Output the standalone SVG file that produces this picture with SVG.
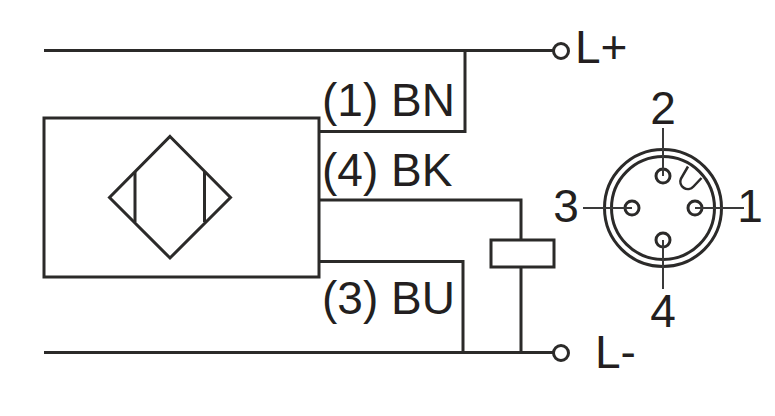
<svg xmlns="http://www.w3.org/2000/svg" width="775" height="416" viewBox="0 0 775 416">
<style>
.l{fill:none;stroke:#2b2a29;stroke-width:3}
.t{fill:none;stroke:#2b2a29;stroke-width:2.500}
.p{fill:none;stroke:#3a3a3a;stroke-width:2}
text{font-family:"Liberation Sans",Arial,sans-serif;font-size:46px;fill:#231f20}
.m{text-anchor:middle}
</style>
<rect width="775" height="416" fill="#fff"/>
<g id="connectors">
<path class="l" d="M44 50.500H553M465 50.500V131.500H319M319 200H521V240M521 267V352.500M319 261.500H463V352.500M44 352.500H553"/>
</g>
<g id="sensor">
<rect class="l" x="44" y="118" width="275" height="159"/>
<path class="l" d="M170 136.500L230.500 197.500L170 258L109.500 197.500Z"/>
<path class="l" d="M135 172V222M204.500 172V222"/>
</g>
<g id="load"><rect class="l" x="491" y="240" width="63" height="27"/></g>
<g id="terminal-plus"><circle class="l" cx="561" cy="51" r="7.500"/><text x="575" y="63">L+</text></g>
<g id="terminal-minus"><circle class="l" cx="561" cy="353" r="7.500"/><text x="595" y="368">L-</text></g>
<g id="label-bn"><text x="322" y="116">(1) BN</text></g>
<g id="label-bk"><text x="322" y="186">(4) BK</text></g>
<g id="label-bu"><text x="322" y="314">(3) BU</text></g>
<g id="connector-plug">
<circle class="l" cx="663" cy="208" r="58.500"/>
<circle class="l" cx="663" cy="208" r="51.500"/>
<path class="t" d="M688 166.500L681 178.500A7.500 7.500 0 0 0 693.500 186.500L701.500 178"/>
<circle class="l" cx="663" cy="176" r="7"/>
<circle class="l" cx="632" cy="208" r="7"/>
<circle class="l" cx="695" cy="208" r="7"/>
<circle class="l" cx="663" cy="240" r="7"/>
<path class="p" d="M663 128V176M663 240V289M583 208H632M695 208H744"/>
<text class="m" x="663" y="124">2</text>
<text class="m" x="566" y="222">3</text>
<text class="m" x="750" y="222">1</text>
<text class="m" x="663" y="327">4</text>
</g>
</svg>
